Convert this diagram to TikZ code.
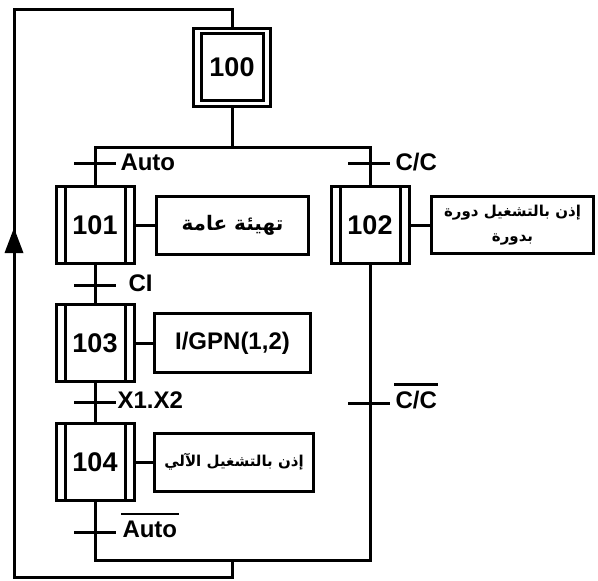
\documentclass[tikz,border=0pt]{standalone}
\usepackage{fontspec}
\setmainfont{Liberation Sans}
\newfontfamily\arabicfont[Script=Arabic]{DejaVu Sans}
\TeXXeTstate=1
\usetikzlibrary{calc}
\begin{document}
\begin{tikzpicture}[x=1pt,y=-1pt, line width=3pt,
  gstep/.style={draw, minimum width=78pt, minimum height=77pt, inner sep=0pt,
    font=\bfseries\fontsize{27}{27}\selectfont},
  actbox/.style={draw, minimum height=58pt, inner sep=0pt},
  tlabel/.style={anchor=west, inner sep=0pt, font=\bfseries\fontsize{24}{24}\selectfont},
  lattext/.style={font=\bfseries\fontsize{24}{24}\selectfont},
  artext/.style={align=center},
  overbar/.style={line width=2.5pt}]
\useasboundingbox (0,0) rectangle (598,581);

% steps
\node[gstep, minimum width=77pt, minimum height=78pt] (s100) at (232,67.5) {100};
\draw ($(s100.north west)+(9,6)$) rectangle ($(s100.south east)+(-9,-8)$);
\node[gstep] (s101) at (95,225) {101};
\node[gstep] (s102) at (370,225) {102};
\node[gstep] (s103) at (95,343) {103};
\node[gstep] (s104) at (95,462) {104};
\foreach \s in {s101,s102,s103,s104}{
  \draw ($(\s.north west)+(10.5,0)$) -- ($(\s.south west)+(10.5,0)$);
  \draw ($(\s.north east)+(-10.5,0)$) -- ($(\s.south east)+(-10.5,0)$);
}

% actions
\node[actbox, minimum width=152pt, artext, font=\arabicfont\bfseries\fontsize{20}{24}\selectfont] (a101) at (232.5,225) {\beginR تهيئة عامة\endR};
\node[actbox, minimum width=162pt, minimum height=57pt, artext, font=\arabicfont\bfseries\fontsize{15}{25}\selectfont] (a102) at (512.5,225) {\beginR إذن بالتشغيل دورة\endR\\\beginR بدورة\endR};
\node[actbox, minimum width=156pt, minimum height=59pt, lattext] (a103) at (232.5,343) {I/GPN(1,2)};
\node[actbox, minimum width=159pt, artext, font=\arabicfont\bfseries\fontsize{15}{24}\selectfont] (a104) at (234,462) {\beginR إذن بالتشغيل الآلي\endR};
\draw (s101.east) -- (a101.west);
\draw (s102.east) -- (a102.west);
\draw (s103.east) -- (a103.west);
\draw (s104.east) -- (a104.west);

% divergence / convergence
\coordinate (dl) at (95,147);
\coordinate (dm) at (232,147);
\coordinate (dr) at (370,147);
\coordinate (cl) at (95,560);
\coordinate (cm) at (232,560);
\coordinate (cr) at (370,560);
\draw (s100.south) -- (dm);
\draw (s101.north) -- (dl) -- (dr) -- (s102.north);
\draw (s101.south) -- (s103.north);
\draw (s103.south) -- (s104.north);
\draw (s104.south) -- (cl) -- (cr) -- (s102.south);

% loop back
\coordinate (lb) at (232,577);
\coordinate (lbl) at (14,577);
\coordinate (ltl) at (14,9);
\coordinate (ltr) at (232,9);
\draw (cm) -- (lb) -- (lbl) -- (ltl) -- (ltr) -- (s100.north);
\fill (14,228) -- (4.5,253) -- (23.5,253) -- cycle;

% transitions
\coordinate (t1) at (95,163);
\coordinate (t2) at (95,285);
\coordinate (t3) at (95,402);
\coordinate (t4) at (95,532);
\coordinate (t5) at (369,163);
\coordinate (t6) at (369,403);
\foreach \t in {t1,t2,t3,t4,t5,t6}{
  \draw ($(\t)+(-21,0)$) -- ($(\t)+(21,0)$);
}
\node[tlabel] (l1) at (119,162) {Auto};
\node[tlabel] (l2) at (127,283) {CI};
\node[tlabel] (l3) at (116,400) {X1.X2};
\node[tlabel] (l4) at (121,529) {Auto};
\draw[overbar] ($(l4.north west)+(0,-5)$) -- ($(l4.north east)+(0,-5)$);
\node[tlabel] (l5) at (394,162) {C/C};
\node[tlabel] (l6) at (394,400) {C/C};
\draw[overbar] ($(l6.north west)+(0,-5)$) -- ($(l6.north east)+(0,-5)$);
\end{tikzpicture}
\end{document}
